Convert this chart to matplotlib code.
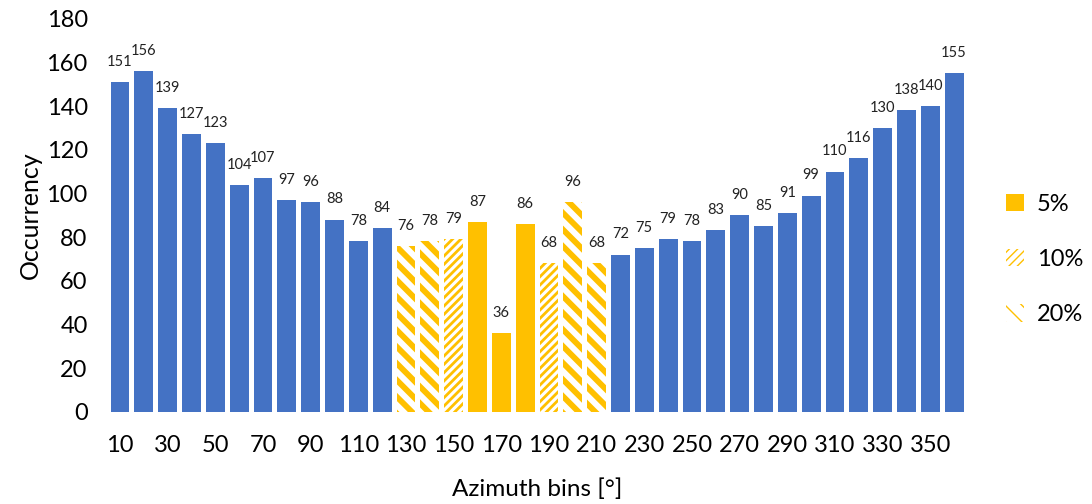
import matplotlib
matplotlib.use("Agg")
import matplotlib.pyplot as plt
from matplotlib.patches import Patch
import numpy as np

bins = list(range(10, 361, 10))
values = [151, 156, 139, 127, 123, 104, 107, 97, 96, 88, 78, 84,
          76, 78, 79, 87, 36, 86, 68, 96, 68,
          72, 75, 79, 78, 83, 90, 85, 91, 99, 110, 116, 130, 138, 140, 155]
# category per bar: 'b' = blue, '5' = 5 %, '10' = 10 %, '20' = 20 %
kinds = ['b'] * 12 + ['20', '20', '10', '5', '5', '5', '10', '20', '20'] + ['b'] * 15
legend_labels = ['5%', '10%', '20%']

BLUE = '#4472C4'
YEL = '#FFC000'
plt.rcParams['font.family'] = ['Lato', 'DejaVu Sans']

fig = plt.figure(figsize=(10.92, 5.04), dpi=100)
ax = fig.add_axes([0.0968, 0.183, 0.79, 0.78])

x = np.arange(len(bins))
w = 0.79
styles = {
    'b': dict(color=BLUE, hatch=None, lw_h=1.0),
    '5': dict(color=YEL, hatch=None, lw_h=1.0),
    '10': dict(color=YEL, hatch='////', lw_h=2.0),
    '20': dict(color=YEL, hatch='\\\\', lw_h=4.2),
}
for k, st in styles.items():
    idx = [i for i, kk in enumerate(kinds) if kk == k]
    if not idx:
        continue
    with plt.rc_context({'hatch.linewidth': st['lw_h'], 'hatch.color': st['color']}):
        if st['hatch'] is None:
            ax.bar(x[idx], [values[i] for i in idx], width=w, color=st['color'], linewidth=0)
        else:
            ax.bar(x[idx], [values[i] for i in idx], width=w, facecolor='white',
                   edgecolor=st['color'], hatch=st['hatch'], linewidth=0)

for xi, v in zip(x, values):
    ax.text(xi, v + 6, str(v), ha='center', va='bottom', fontsize=10.5, color='#222222')

ax.set_xlim(-0.6, len(bins) - 0.4)
ax.set_ylim(0, 180)
ax.set_yticks(range(0, 181, 20))
ax.set_xticks(x[::2])
ax.set_xticklabels([str(b) for b in bins[::2]])
ax.tick_params(axis='both', length=0, labelsize=17)
ax.tick_params(axis='x', pad=17)
ax.tick_params(axis='y', pad=13)
for s in ax.spines.values():
    s.set_visible(False)
ax.set_ylabel('Occurrency', fontsize=18, labelpad=3)
ax.set_xlabel('Azimuth bins [°]', fontsize=17.5, labelpad=16)

handles = []
for lab, k in zip(legend_labels, ['5', '10', '20']):
    st = styles[k]
    with plt.rc_context({'hatch.linewidth': st['lw_h'], 'hatch.color': st['color']}):
        if st['hatch'] is None:
            handles.append(Patch(facecolor=st['color'], linewidth=0, label=lab))
        else:
            handles.append(Patch(facecolor='white', edgecolor=st['color'], hatch=st['hatch'],
                                 linewidth=0, label=lab))
fig.legend(handles=handles, loc='center left', bbox_to_anchor=(0.902, 0.485), frameon=False,
           fontsize=17, labelspacing=1.45, handlelength=0.75, handleheight=0.75, handletextpad=0.55)

fig.savefig('out.png', dpi=100)
